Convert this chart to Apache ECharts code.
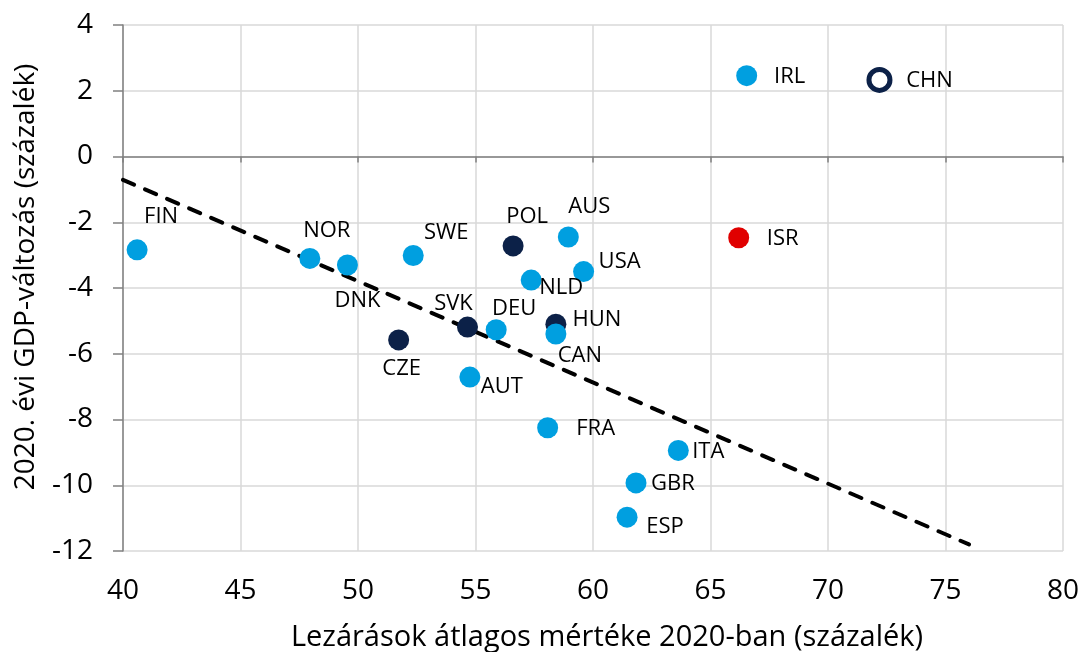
<!DOCTYPE html>
<html>
<head>
<meta charset="utf-8">
<script src="https://cdn.jsdelivr.net/npm/echarts@6/dist/echarts.min.js"></script>
<style>
html,body{margin:0;padding:0;background:#fff;}
#chart{width:1082px;height:652px;}
</style>
</head>
<body>
<div id="chart"></div>
<script>
// ---- data ----
var countries = ['FIN','NOR','DNK','SWE','POL','AUS','USA','NLD','SVK','DEU','HUN','CAN','CZE','AUT','FRA','ITA','GBR','ESP','IRL','CHN','ISR'];
var lockdown  = [40.6, 47.95, 49.55, 52.35, 56.6, 58.95, 59.6, 57.37, 54.66, 55.88, 58.42, 58.42, 51.73, 54.76, 58.07, 63.63, 61.83, 61.45, 66.54, 72.19, 66.2];
var gdpChange = [-2.84, -3.10, -3.30, -3.01, -2.72, -2.45, -3.50, -3.76, -5.19, -5.27, -5.10, -5.40, -5.58, -6.71, -8.25, -8.94, -9.93, -10.97, 2.46, 2.33, -2.47];
var groups    = ['light','light','light','light','dark','light','light','light','dark','light','dark','light','dark','light','light','light','light','light','light','hollow','red'];
var trendX = [40, 76];
var trendY = [-0.71, -11.80];
var xTicks = {min: 40, max: 80, interval: 5};
var yTicks = {min: -12, max: 4, interval: 2};

// ---- label placement (px offsets from the marker) ----
var labelOffsets = {
  FIN:[24,-33], NOR:[17,-28], DNK:[10,36], SWE:[33,-23], POL:[14,-29], AUS:[21,-30],
  USA:[36,-10], NLD:[30,8], SVK:[-14,-23], DEU:[18,-21], HUN:[41,-4], CAN:[24,22],
  CZE:[3,29], AUT:[32,10], FRA:[48,1], ITA:[30,1], GBR:[37,1], ESP:[38,10],
  IRL:[43,1], CHN:[50,1], ISR:[44,1]
};
var groupStyle = {
  light:  {color:'#009FE0', opacity:1},
  dark:   {color:'#0C2148', opacity:1},
  red:    {color:'#E00000', opacity:1},
  hollow: {color:'#ffffff', borderColor:'#0C2148', borderWidth:5, opacity:1}
};

var FONT = '"Open Sans", sans-serif';
var points = countries.map(function(c, i){
  return {
    name: c,
    value: [lockdown[i], gdpChange[i]],
    symbolSize: 21,
    itemStyle: groupStyle[groups[i]],
    label: {show:true, formatter:c, position:'inside', offset:labelOffsets[c],
            color:'#000', opacity:1, fontSize:22, fontFamily:FONT}
  };
});

var chart = echarts.init(document.getElementById('chart'), null, {renderer:'canvas'});
chart.setOption({
  animation:false,
  backgroundColor:'#fff',
  grid:{left:123, top:25, right:19, bottom:101, containLabel:false, outerBoundsMode:'none'},
  xAxis:[{
    type:'value', min:xTicks.min, max:xTicks.max, interval:xTicks.interval,
    position:'bottom',
    axisLine:{show:false, onZero:false}, axisTick:{show:false},
    splitLine:{show:true, lineStyle:{color:'#D9D9D9', width:1.5}},
    axisLabel:{color:'#000', fontSize:28, fontFamily:FONT, margin:26},
    name:'Lezárások átlagos mértéke 2020-ban (százalék)',
    nameLocation:'middle', nameGap:72,
    nameTextStyle:{color:'#000', fontSize:29, fontFamily:FONT, padding:[0,0,0,28]}
  },{
    type:'value', min:xTicks.min, max:xTicks.max, interval:xTicks.interval,
    position:'bottom',
    axisLine:{show:true, onZero:true, lineStyle:{color:'#808080', width:1.5}},
    axisTick:{show:true, inside:false, length:6, lineStyle:{color:'#808080', width:1.5}},
    axisLabel:{show:false}, splitLine:{show:false}
  }],
  yAxis:{
    type:'value', min:yTicks.min, max:yTicks.max, interval:yTicks.interval,
    axisLine:{show:true, onZero:false, lineStyle:{color:'#808080', width:1.5}},
    axisTick:{show:true, length:10, lineStyle:{color:'#808080', width:1.5}},
    splitLine:{show:true, lineStyle:{color:'#D9D9D9', width:1.5}},
    axisLabel:{color:'#000', fontSize:28, fontFamily:FONT, margin:30},
    name:'2020. évi GDP-változás (százalék)',
    nameLocation:'middle', nameGap:83, nameRotate:90,
    nameTextStyle:{color:'#000', fontSize:28, fontFamily:FONT, padding:[0,0,0,22]}
  },
  series:[{
    type:'line', xAxisIndex:0,
    data: trendX.map(function(x,i){return [x, trendY[i]];}),
    showSymbol:false, symbol:'none', silent:true, z:1,
    lineStyle:{color:'#000', width:4, type:[12,12], cap:'round'}
  },{
    type:'scatter', xAxisIndex:0, z:3,
    data: points
  }]
});
</script>
</body>
</html>
